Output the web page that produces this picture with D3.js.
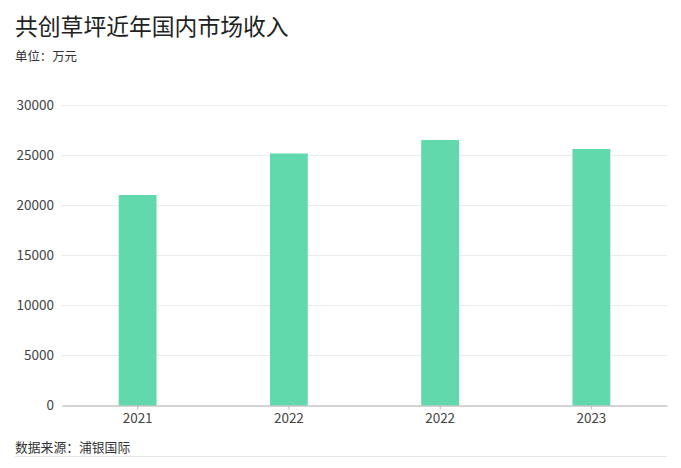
<!DOCTYPE html>
<html>
<head>
<meta charset="utf-8">
<script src="https://cdn.jsdelivr.net/npm/d3@7"></script>
<style>
  body { margin: 0; background: #fff; }
  text { font-family: "Noto Sans CJK SC", "Noto Sans", sans-serif; }
</style>
</head>
<body>
<div id="main"></div>
<script>
const ctx = {
    w: 681,
    h: 468,
    left: 62,
    right: 667,
    top: 105.5,
    bottom: 405.5
};

// 数据
const years = ["2021", "2022", "2022 ", "2023"];
const revenue = [21050, 25200, 26550, 25650];
const yTicks = [0, 5000, 10000, 15000, 20000, 25000, 30000];

const svg = d3.select("#main").append("svg")
    .attr("width", ctx.w)
    .attr("height", ctx.h);

svg.append("rect").attr("width", "100%").attr("height", "100%").attr("fill", "#fff");

const x = d3.scaleBand()
    .domain(years)
    .range([ctx.left, ctx.right])
    .paddingInner(0.75)
    .paddingOuter(0.375);

const y = d3.scaleLinear()
    .domain([0, 30000])
    .range([ctx.bottom, ctx.top]);

// titles
svg.append("text")
    .attr("x", 15).attr("y", 35)
    .attr("font-size", 22.8)
    .attr("fill", "#222")
    .text("共创草坪近年国内市场收入");
svg.append("text")
    .attr("x", 15).attr("y", 61)
    .attr("font-size", 12.4)
    .attr("fill", "#333")
    .text("单位：万元");

// grid
svg.append("g")
    .selectAll("line")
    .data(yTicks.filter(d => d > 0))
    .enter()
    .append("line")
    .attr("x1", ctx.left).attr("x2", ctx.right)
    .attr("y1", d => y(d)).attr("y2", d => y(d))
    .attr("stroke", "#ebebeb")
    .attr("stroke-width", 1);

// y axis labels
const yAxis = svg.append("g")
    .attr("transform", `translate(${ctx.left},0)`)
    .call(d3.axisLeft(y).tickValues(yTicks).tickSize(0).tickPadding(8)
        .tickFormat(d3.format("d")));
yAxis.select(".domain").remove();
yAxis.selectAll("text")
    .attr("font-size", 13.5)
    .attr("fill", "#444")
    .style("font-family", "\"Noto Sans CJK SC\", sans-serif");

// bars
svg.append("g")
    .selectAll("rect")
    .data(years)
    .enter()
    .append("rect")
    .attr("x", d => x(d))
    .attr("width", x.bandwidth())
    .attr("y", (d, i) => y(revenue[i]))
    .attr("height", (d, i) => y(0) - y(revenue[i]))
    .attr("fill", "#61d9ac");

// x axis
const xAxis = svg.append("g")
    .attr("transform", `translate(0,${ctx.bottom})`)
    .call(d3.axisBottom(x).tickSize(4).tickSizeOuter(0).tickPadding(4)
        .tickFormat(d => d.trim()));
xAxis.select(".domain").attr("stroke", "#aaa").attr("stroke-width", 1.2);
xAxis.selectAll(".tick line").attr("stroke", "#bbb");
xAxis.selectAll("text")
    .attr("font-size", 13.5)
    .attr("fill", "#444")
    .style("font-family", "\"Noto Sans CJK SC\", sans-serif");

// source
svg.append("text")
    .attr("x", 15).attr("y", 452)
    .attr("font-size", 12.8)
    .attr("fill", "#333")
    .text("数据来源：浦银国际");
svg.append("line")
    .attr("x1", 15).attr("x2", ctx.right)
    .attr("y1", 456.5).attr("y2", 456.5)
    .attr("stroke", "#e6e6e6");
</script>
</body>
</html>
